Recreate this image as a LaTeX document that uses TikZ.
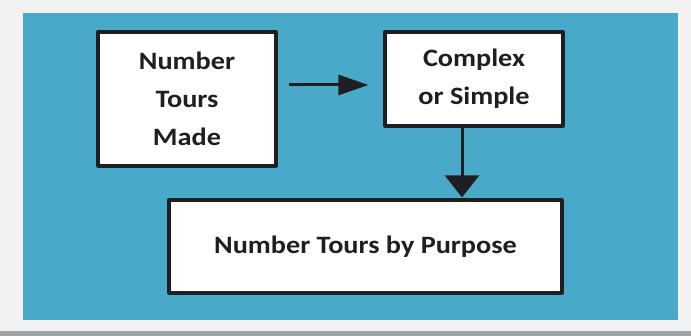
\documentclass[tikz,border=0pt]{standalone}
\usepackage{fontspec}
\setmainfont{Carlito}[FakeStretch=1.13]
\usetikzlibrary{arrows.meta}
\definecolor{panel}{RGB}{72,170,200}
\definecolor{paper}{RGB}{242,242,242}
\definecolor{rim}{RGB}{160,164,168}
\definecolor{ink}{RGB}{30,30,35}
\begin{document}
\begin{tikzpicture}[x=1pt,y=1pt,line join=round,
  box/.style={draw=ink,line width=3.2pt,fill=white,align=center,inner sep=0pt,
    font=\fontsize{25}{38}\selectfont\bfseries,text=ink},
  flow/.style={draw=ink,line width=3pt}]
\def \pagew{691};
\def \pageh{336};
% page and panel
\fill[paper] (0,0) rectangle (\pagew,\pageh);
\fill[rim] (0,0) rectangle (\pagew,5);
\fill[panel] (23,16) rectangle (678,323);
\useasboundingbox (0,0) rectangle (\pagew,\pageh);

\node[box,minimum width=178,minimum height=134] (made) at (187,237) {Number\\Tours\\Made};
\node[box,minimum width=178,minimum height=94] (kind) at (474,257) {Complex\\or Simple};
\node[box,minimum width=393,minimum height=93] (purpose) at (365.5,89.5) {Number Tours by Purpose};

\draw[flow,-{Triangle[length=30pt,width=20pt]},shorten <=11pt,shorten >=15pt]
  ([yshift=14pt]made.east) -- ([yshift=-6pt]kind.west);
\draw[flow,-{Triangle[length=22pt,width=34pt]},shorten >=1pt]
  ([xshift=-12pt]kind.south) -- ([xshift=96.5pt]purpose.north);
\end{tikzpicture}
\end{document}
